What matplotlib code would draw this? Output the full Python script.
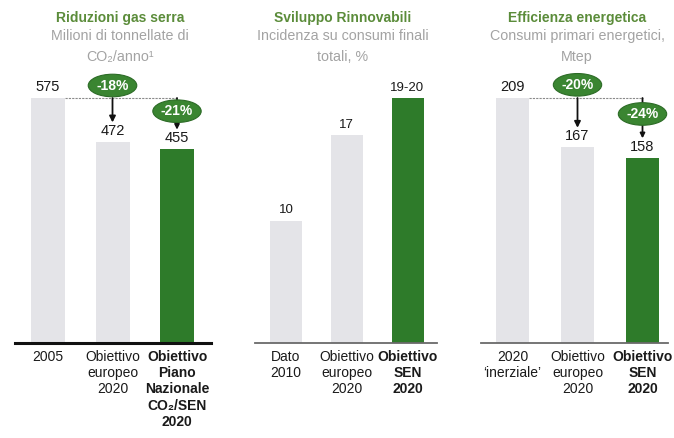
import matplotlib.pyplot as plt

plt.rcParams['font.family'] = ['Liberation Sans', 'DejaVu Sans']

# Riduzioni gas serra
ghg_labels = ['2005', 'Obiettivo\neuropeo\n2020', 'Obiettivo\nPiano\nNazionale\nCO₂/SEN\n2020']
ghg_values = [575, 472, 455]
ghg_text = ['575', '472', '455']
ghg_cuts = ['-18%', '-21%']

# Sviluppo Rinnovabili
res_labels = ['Dato\n2010', 'Obiettivo\neuropeo\n2020', 'Obiettivo\nSEN\n2020']
res_values = [10, 17, 20]
res_text = ['10', '17', '19-20']

# Efficienza energetica
eff_labels = ['2020\n\u2018inerziale\u2019', 'Obiettivo\neuropeo\n2020', 'Obiettivo\nSEN\n2020']
eff_values = [209, 167, 158]
eff_text = ['209', '167', '158']
eff_cuts = ['-20%', '-24%']

GREY = '#e4e4e8'
GREEN = '#2e7b2a'
PILL = '#3a8531'
TITLE_GREEN = '#5b8c3a'
SUB_GREY = '#a3a3a3'

W, H = 674, 438
fig = plt.figure(figsize=(W / 100, H / 100), dpi=100)

BASE = 343      # baseline, px from top
AX_H = 280      # axes height in px
BAR_PX = 245    # px used by the tallest bar


def make_axes(left, right, first, pitch, top_value):
    ax = fig.add_axes([left / W, 1 - BASE / H, (right - left) / W, AX_H / H])
    x0 = (left - first) / pitch
    ax.set_xlim(x0, x0 + (right - left) / pitch)
    ax.set_ylim(0, top_value * AX_H / BAR_PX)
    ax.set_yticks([])
    for s in ('left', 'right', 'top'):
        ax.spines[s].set_visible(False)
    return ax


def draw_bars(ax, values, texts, labels, width, fs):
    ax.bar(range(3), values, width=width, color=[GREY, GREY, GREEN], zorder=2)
    for i, (v, t) in enumerate(zip(values, texts)):
        ax.annotate(t, (i, v), xytext=(0, 3), textcoords='offset points',
                    ha='center', va='bottom', fontsize=fs, color='#1a1a1a')
    ax.set_xticks(range(3), labels, fontsize=10, color='#1a1a1a')
    ax.tick_params(axis='x', length=0, pad=5)
    ax.get_xticklabels()[2].set_fontweight('bold')


def draw_cuts(ax, values, cuts, width, up, down):
    v0 = values[0]
    ax.plot([width / 2, 2], [v0, v0], ls=(0, (2, 1)), lw=0.8, color='#8a8a8a', zorder=3)
    pill = dict(boxstyle='ellipse,pad=0.07', fc=PILL, ec='#2c6b26', lw=0.8)
    # first reduction: arrow from the reference level down to the second bar
    ax.annotate('', xy=(1, values[1]), xytext=(1, v0),
                arrowprops=dict(arrowstyle='-|>', color='#111111', lw=1.3,
                                shrinkA=0, shrinkB=14, mutation_scale=9), zorder=4)
    ax.annotate(cuts[0], (1, v0), xytext=(0, up), textcoords='offset points',
                ha='center', va='center', fontsize=10, fontweight='bold',
                color='white', bbox=pill, zorder=5)
    # second reduction
    ax.annotate('', xy=(2, values[2]), xytext=(2, v0),
                arrowprops=dict(arrowstyle='-|>', color='#111111', lw=1.3,
                                shrinkA=0, shrinkB=14, mutation_scale=7), zorder=4)
    ax.annotate(cuts[1], (2, v0), xytext=(0, down), textcoords='offset points',
                ha='center', va='center', fontsize=10, fontweight='bold',
                color='white', bbox=pill, zorder=5)


def heading(x, title, sub):
    fig.text(x / W, 1 - 18 / H, title, ha='center', va='center', fontsize=10,
             fontweight='bold', color=TITLE_GREEN)
    fig.text(x / W, 1 - 29 / H, sub, ha='center', va='top', fontsize=10.3,
             color=SUB_GREY, linespacing=1.6)


# panel 1
ax1 = make_axes(15, 211, 48, 64.5, 575)
w1 = 34 / 64.5
draw_bars(ax1, ghg_values, ghg_text, ghg_labels, w1, 10.5)
draw_cuts(ax1, ghg_values, ghg_cuts, w1, 9, -9.5)
ax1.spines['bottom'].set_linewidth(2.2)
ax1.spines['bottom'].set_color('#111111')
heading(120, 'Riduzioni gas serra', 'Milioni di tonnellate di\nCO\u2082/anno\u00b9')

# panel 2
ax2 = make_axes(255, 437, 286, 60.75, 20)
draw_bars(ax2, res_values, res_text, res_labels, 32 / 60.75, 9.5)
ax2.spines['bottom'].set_linewidth(1.3)
ax2.spines['bottom'].set_color('#6a6a6a')
heading(343, 'Sviluppo Rinnovabili', 'Incidenza su consumi finali\ntotali, %')

# panel 3
ax3 = make_axes(481, 668, 512.5, 65, 209)
w3 = 33 / 65
draw_bars(ax3, eff_values, eff_text, eff_labels, w3, 10.5)
draw_cuts(ax3, eff_values, eff_cuts, w3, 9.5, -11.5)
ax3.spines['bottom'].set_linewidth(1.3)
ax3.spines['bottom'].set_color('#6a6a6a')
heading(577, 'Efficienza energetica', 'Consumi primari energetici,\nMtep')

fig.savefig('out.png', dpi=100)
